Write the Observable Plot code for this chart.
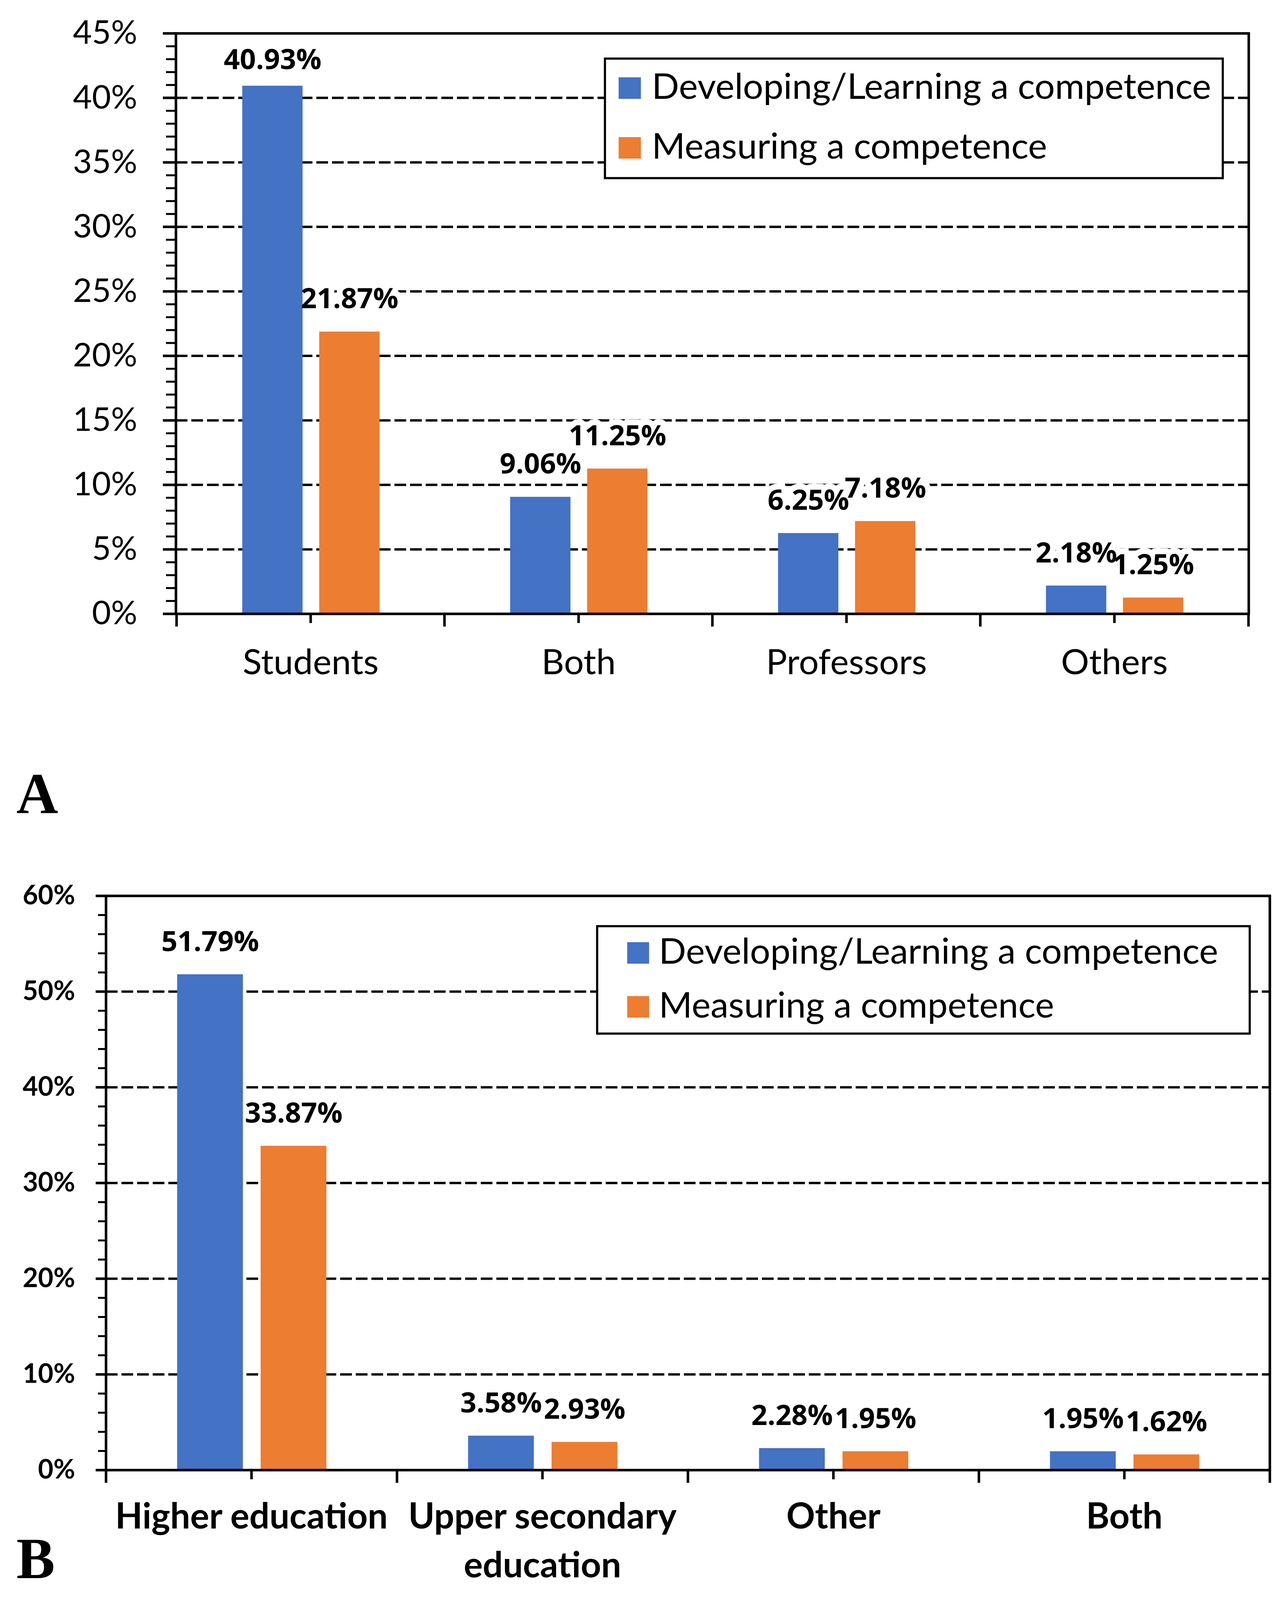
<!DOCTYPE html>
<html><head><meta charset="utf-8">
<script src="https://cdn.jsdelivr.net/npm/d3@7"></script>
<script src="https://cdn.jsdelivr.net/npm/@observablehq/plot@0.6"></script>
<style>
body{margin:0;background:#fff;}
#page{position:relative;width:3298px;height:4422px;background:#fff;overflow:hidden;}
#page svg{position:absolute;left:0;}
</style></head>
<body><div id="page"></div>
<script>
// ---- data ----
const seriesNames = ["Developing/Learning a competence", "Measuring a competence"];
const seriesColors = ["#4472C4", "#ED7D31"];

const catsA = ["Students", "Both", "Professors", "Others"];
const devA = [40.93, 9.06, 6.25, 2.18];
const measA = [21.87, 11.25, 7.18, 1.25];
const yTicksA = [0, 5, 10, 15, 20, 25, 30, 35, 40, 45];

const catsB = ["Higher education", "Upper secondary education", "Other", "Both"];
const tickLabelsB = ["Higher education", "Upper secondary\neducation", "Other", "Both"];
const devB = [51.79, 3.58, 2.28, 1.95];
const measB = [33.87, 2.93, 1.95, 1.62];
const yTicksB = [0, 10, 20, 30, 40, 50, 60];

const panelLetters = ["A", "B"];

// ---- chart builder ----
const W = 3298;
function makeChart(o) {
  const rows = o.cats.map((c, i) => ({cat: c, dev: o.dev[i], meas: o.meas[i]}));
  const step = (W - o.mL - o.mR) / o.cats.length;
  const leftF = 0.245, barF = 0.226, gapF = 0.061;
  const blueL = leftF * step, blueR = step - (leftF + barF) * step;
  const orL = (leftF + barF + gapF) * step, orR = step - (leftF + 2 * barF + gapF) * step;
  const blueC = (leftF + barF / 2 - 0.5) * step;
  const orC = (leftF + barF + gapF + barF / 2 - 0.5) * step;
  const plotH = o.height - o.mT - o.mB;
  const yMax = o.majors[o.majors.length - 1];
  const minors = d3.range(0, yMax + 0.001, o.minorStep).filter(t => !o.majors.includes(t));
  const pct = v => v.toFixed(2) + "%";
  // keep a label inside the plot area (as the spreadsheet does)
  const capV = yMax - (151 / (plotH / yMax));
  const base = {fontSize: 72, fontWeight: "bold", fontFamily: "'Open Sans', sans-serif",
                lineAnchor: "bottom", dy: -60, textAnchor: "middle"};
  const halo = {...base, fill: "#fff", stroke: "#fff", strokeWidth: 30, strokeLinejoin: "round"};
  const ink = {...base, fill: "#000"};
  const yDev = d => Math.min(d.dev, capV), yMeas = d => Math.min(d.meas, capV);
  const fmt = o.tickLabels ? (d => o.tickLabels[o.cats.indexOf(d)]) : (d => d);
  return Plot.plot({
    width: W, height: o.height,
    marginLeft: o.mL, marginRight: o.mR, marginTop: o.mT, marginBottom: o.mB,
    style: {fontFamily: "Lato, sans-serif", background: "transparent", overflow: "visible", color: "#000"},
    x: {type: "band", domain: o.cats, padding: 0, label: null},
    y: {domain: [0, yMax], label: null},
    marks: [
      Plot.ruleY(o.majors.filter(t => t > 0 && t < yMax), {stroke: "#000", strokeWidth: 6, strokeDasharray: "30,10"}),
      Plot.text(rows, {x: "cat", y: yDev, text: d => pct(d.dev), dx: blueC, ...halo}),
      Plot.text(rows, {x: "cat", y: yMeas, text: d => pct(d.meas), dx: orC, ...halo}),
      Plot.barY(rows, {x: "cat", y: "dev", fill: seriesColors[0], insetLeft: blueL, insetRight: blueR}),
      Plot.barY(rows, {x: "cat", y: "meas", fill: seriesColors[1], insetLeft: orL, insetRight: orR}),
      Plot.text(rows, {x: "cat", y: yDev, text: d => pct(d.dev), dx: blueC, ...ink}),
      Plot.text(rows, {x: "cat", y: yMeas, text: d => pct(d.meas), dx: orC, ...ink}),
      Plot.frame({stroke: "#000", strokeWidth: 6.5}),
      Plot.axisY(minors, {tickSize: o.minorSize, text: null, strokeWidth: 5, label: null}),
      Plot.axisY(o.majors, {tickSize: o.majorSize, tickPadding: o.yPad, fontSize: o.yFont, fontWeight: o.yWeight,
                            tickFormat: d => d + "%", strokeWidth: 6.5, label: null}),
      Plot.axisX({tickSize: 24, tickPadding: o.xPad, fontSize: o.xFont, fontWeight: o.xWeight, strokeWidth: 6.5,
                  tickFormat: fmt, lineHeight: 1.38, label: null}),
      Plot.ruleX(o.cats, {x: d => d, dx: -step / 2, insetTop: plotH, insetBottom: -33, strokeWidth: 6.5}),
      Plot.ruleX([o.cats[o.cats.length - 1]], {x: d => d, dx: step / 2, insetTop: plotH, insetBottom: -33, strokeWidth: 6.5})
    ]
  });
}

const page = document.getElementById("page");

const chartA = makeChart({
  cats: catsA, dev: devA, meas: measA, majors: yTicksA, minorStep: 1,
  height: 1871, mL: 450, mR: W - 3197, mT: 85, mB: 300,
  majorSize: 33, minorSize: 25, yPad: 66, yFont: 84, yWeight: "normal",
  xFont: 90, xWeight: "normal", xPad: 42
});
chartA.style.top = "0px";
page.appendChild(chartA);

const chartB = makeChart({
  cats: catsB, tickLabels: tickLabelsB, dev: devB, meas: measB, majors: yTicksB, minorStep: 2,
  height: 2013, mL: 271, mR: W - 3251, mT: 193, mB: 350,
  majorSize: 26, minorSize: 20, yPad: 53, yFont: 68, yWeight: "bold",
  xFont: 91, xWeight: "bold", xPad: 36
});
chartB.style.top = "2100px";
page.appendChild(chartB);

// ---- overlay: legends and panel letters ----
const ov = d3.select(page).append("svg")
  .attr("width", W).attr("height", 4422)
  .style("top", "0px").style("pointer-events", "none");

const legends = [
  {box: [1549, 150, 3131, 456], sw: [1584, 1641], rows: [253, 406], tx: 1669},
  {box: [1529, 2371, 3200, 2646], sw: [1606, 1662], rows: [2467, 2605], tx: 1687}
];
legends.forEach(L => {
  ov.append("rect").attr("x", L.box[0]).attr("y", L.box[1])
    .attr("width", L.box[2] - L.box[0]).attr("height", L.box[3] - L.box[1])
    .attr("fill", "#fff").attr("stroke", "#000").attr("stroke-width", 5.5);
  seriesNames.forEach((name, i) => {
    ov.append("rect").attr("x", L.sw[0]).attr("y", L.rows[i] - 55)
      .attr("width", L.sw[1] - L.sw[0]).attr("height", 55).attr("fill", seriesColors[i]);
    ov.append("text").attr("x", L.tx).attr("y", L.rows[i])
      .attr("font-family", "Lato, sans-serif").attr("font-size", 92).attr("fill", "#000")
      .text(name);
  });
});

[[42, 2081], [42, 4040]].forEach((p, i) => {
  ov.append("text").attr("x", p[0]).attr("y", p[1])
    .attr("font-family", "'Liberation Serif', 'Times New Roman', serif")
    .attr("font-weight", "bold").attr("font-size", 148).attr("fill", "#000")
    .text(panelLetters[i]);
});
</script>
</body></html>
